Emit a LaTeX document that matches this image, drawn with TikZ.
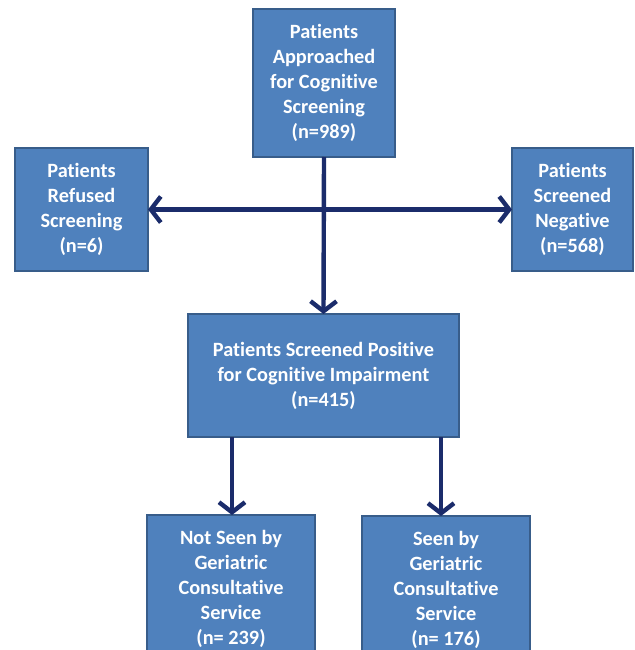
\documentclass[tikz,border=0pt]{standalone}
\usepackage{fontspec}
\setmainfont{Carlito}[Ligatures=NoCommon]
\usetikzlibrary{arrows.meta}
\definecolor{boxfill}{HTML}{4F81BD}
\definecolor{boxedge}{HTML}{385D8A}
\definecolor{arrowblue}{HTML}{1B2C6B}
\begin{document}
\begin{tikzpicture}[x=1pt,y=-1pt,
    box/.style={draw=boxedge,fill=boxfill,line width=1.6pt,text=white,
      font=\bfseries\fontsize{20.3}{25}\selectfont,align=center,
      inner sep=0pt,outer sep=0pt},
    tip/.tip={Straight Barb[length=10pt,width=26pt,line width=4.4pt]},
    arr/.style={draw=arrowblue,line width=4.4pt,-tip}]
      \useasboundingbox (0,0) rectangle (634,650);
      \clip (0,0) rectangle (634,650);
      \node[box,minimum width=142,minimum height=148] (approached) at (324,83)
        {Patients\\Approached\\for Cognitive\\Screening\\(n=989)};
      \node[box,minimum width=133,minimum height=123] (refused) at (81.5,209.5)
        {Patients\\Refused\\Screening\\(n=6)};
      \node[box,minimum width=121,minimum height=123] (negative) at (572.5,209.5)
        {Patients\\Screened\\Negative\\(n=568)};
      \node[box,minimum width=271,minimum height=123] (positive) at (323.5,375.5)
        {Patients Screened Positive\\for Cognitive Impairment\\(n=415)};
      \node[box,minimum width=168,minimum height=148] (notseen) at (231,589)
        {Not Seen by\\Geriatric\\Consultative\\Service\\(n= 239)};
      \node[box,minimum width=168,minimum height=148] (seen) at (446,590)
        {Seen by\\Geriatric\\Consultative\\Service\\(n= 176)};
      \draw[arr] (approached.south) -- (positive.north);
      \draw[arr,tip-tip] (refused.east) -- (negative.west);
      \draw[arr] ([xshift=1]notseen.north |- positive.south) -- ([xshift=1]notseen.north);
      \draw[arr] ([xshift=-5]seen.north |- positive.south) -- ([xshift=-5]seen.north);
    \end{tikzpicture}
\end{document}
